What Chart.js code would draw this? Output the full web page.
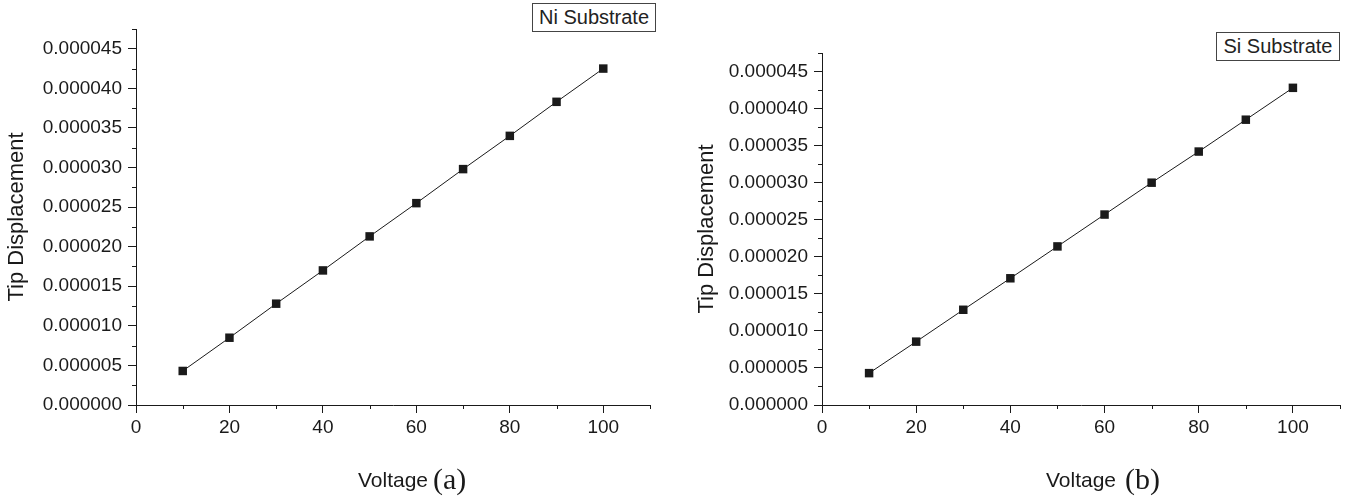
<!DOCTYPE html>
<html>
<head>
<meta charset="utf-8">
<title>Tip Displacement vs Voltage</title>
<script src="https://cdn.jsdelivr.net/npm/chart.js@4.4.0/dist/chart.umd.min.js"></script>
<style>
  body { margin: 0; background: #fff; }
  .panel { position: absolute; top: 0; width: 676px; height: 500px; }
  .tag {
    position: absolute;
    font: 20px "Liberation Sans", Arial, sans-serif;
    color: #222;
    border: 1px solid #444;
    background: #fff;
    box-sizing: border-box;
    text-align: center;
    line-height: 27px;
  }
</style>
</head>
<body>
<div class="panel" style="left:0">
  <canvas id="chartNi" width="676" height="500"></canvas>
  <div class="tag" style="left:532px; top:3px; width:124px; height:29px;">Ni Substrate</div>
</div>
<div class="panel" style="left:676px">
  <canvas id="chartSi" width="676" height="500"></canvas>
  <div class="tag" style="left:540px; top:32px; width:124px; height:29px;">Si Substrate</div>
</div>
<script>
// values
const voltage = [10, 20, 30, 40, 50, 60, 70, 80, 90, 100];
const niDisp = [4.3e-6, 8.5e-6, 12.8e-6, 17.0e-6, 21.3e-6, 25.5e-6, 29.8e-6, 34.0e-6, 38.3e-6, 42.5e-6];
const siDisp = [4.3e-6, 8.55e-6, 12.85e-6, 17.1e-6, 21.4e-6, 25.7e-6, 30.0e-6, 34.2e-6, 38.5e-6, 42.8e-6];

const xTicks = [0, 20, 40, 60, 80, 100];
const xMinor = [10, 30, 50, 70, 90, 110];
const yTicks = [0, 5e-6, 10e-6, 15e-6, 20e-6, 25e-6, 30e-6, 35e-6, 40e-6, 45e-6];
const yMinor = [2.5e-6, 7.5e-6, 12.5e-6, 17.5e-6, 22.5e-6, 27.5e-6, 32.5e-6, 37.5e-6, 42.5e-6, 47.5e-6];

const ink = '#1a1a1a';
const sans = '"Liberation Sans", Arial, sans-serif';

// short ticks between the labelled ones
const minorTicks = {
  id: 'minorTicks',
  afterDraw(chart) {
    const {ctx, scales: {x, y}} = chart;
    ctx.save();
    ctx.strokeStyle = ink;
    ctx.lineWidth = 1;
    ctx.beginPath();
    xMinor.forEach(v => {
      const px = Math.round(x.getPixelForValue(v)) + 0.5;
      ctx.moveTo(px, x.top);
      ctx.lineTo(px, x.top + 4);
    });
    yMinor.forEach(v => {
      const py = Math.round(y.getPixelForValue(v)) + 0.5;
      ctx.moveTo(y.right - 4, py);
      ctx.lineTo(y.right, py);
    });
    ctx.stroke();
    ctx.restore();
  }
};

// the serif (a)/(b) after the x title
const panelTag = {
  id: 'panelTag',
  afterDraw(chart, args, opts) {
    const x = chart.scales.x;
    const t = x.options.title;
    const ctx = chart.ctx;
    ctx.save();
    ctx.font = t.font.size + 'px ' + sans;
    const w = ctx.measureText(t.text).width;
    const cx = (x.left + x.right) / 2;
    const baseline = x.bottom - 4 - t.font.size * 0.6 + t.font.size * 0.35;
    ctx.font = '30px "Liberation Serif", "Times New Roman", serif';
    ctx.fillStyle = ink;
    ctx.textAlign = 'left';
    ctx.textBaseline = 'alphabetic';
    ctx.fillText(opts.text, cx + w / 2 + opts.gap, baseline);
    ctx.restore();
  }
};

function makePanel(id, values, tag, gap, pad, yWidth) {
  const xHeight = 500 - pad.bottom - 405;
  return new Chart(document.getElementById(id), {
    type: 'line',
    data: {
      labels: voltage,
      datasets: [{
        data: values,
        borderColor: ink,
        borderWidth: 1,
        pointStyle: 'rect',
        pointRadius: 6,
        pointBorderWidth: 0,
        pointBackgroundColor: ink,
        pointBorderColor: ink,
        tension: 0
      }]
    },
    options: {
      responsive: false,
      animation: false,
      layout: { padding: pad },
      plugins: {
        legend: { display: false },
        tooltip: { enabled: false },
        panelTag: { text: tag, gap: gap }
      },
      scales: {
        x: {
          type: 'linear',
          min: 0,
          max: 110,
          afterBuildTicks: s => { s.ticks = xTicks.map(v => ({ value: v })); },
          afterFit: s => { s.height = xHeight; },
          grid: { drawOnChartArea: false, drawTicks: true, tickLength: 8, tickColor: ink },
          border: { display: true, color: ink, width: 1 },
          ticks: { color: ink, font: { family: sans, size: 19 }, padding: 3, maxRotation: 0 },
          title: { display: true, text: 'Voltage', color: ink, font: { family: sans, size: 21 }, padding: { top: 4, bottom: 4 } }
        },
        y: {
          type: 'linear',
          min: 0,
          max: 47.5e-6,
          afterBuildTicks: s => { s.ticks = yTicks.map(v => ({ value: v })); },
          afterFit: s => { s.width = yWidth; },
          grid: { drawOnChartArea: false, drawTicks: true, tickLength: 8, tickColor: ink },
          border: { display: true, color: ink, width: 1 },
          ticks: { color: ink, font: { family: sans, size: 19 }, padding: 6, callback: v => v.toFixed(6) },
          title: { display: true, text: 'Tip Displacement', color: ink, font: { family: sans, size: 22 }, padding: { top: 4, bottom: 4 } }
        }
      }
    },
    plugins: [minorTicks, panelTag]
  });
}

makePanel('chartNi', niDisp, '(a)', 5, { top: 29, right: 26, bottom: 2, left: 0 }, 136);
makePanel('chartSi', siDisp, '(b)', 9, { top: 53, right: 12, bottom: 2, left: 14 }, 132);
</script>
</body>
</html>
